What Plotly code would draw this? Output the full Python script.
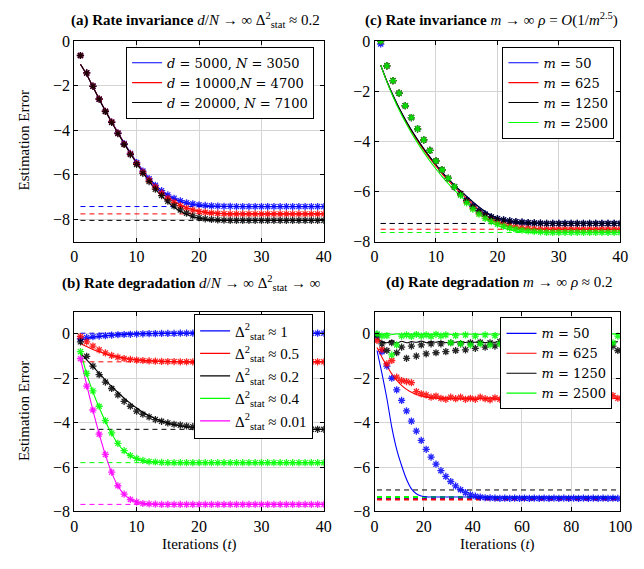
import plotly.graph_objects as go

# ---------------- data ----------------
t40 = list(range(1, 41))
t_d = list(range(1, 100, 2))

# (a) Rate invariance d/N -> inf
a_names = ["<i>d</i> = 5000, <i>N</i> = 3050", "<i>d</i> = 10000,<i>N</i> = 4700", "<i>d</i> = 20000, <i>N</i> = 7100"]
a_colors = ["#0000ff", "#ff0000", "#000000"]
a_blue_mk = [-0.65, -1.43, -2.02, -2.6, -3.15, -3.63, -4.12, -4.6, -5.04, -5.45, -5.83, -6.17, -6.47, -6.71, -6.9, -7.05, -7.16, -7.25, -7.3, -7.34,
             -7.37, -7.39, -7.4, -7.41, -7.41, -7.42, -7.42, -7.42, -7.42, -7.42, -7.42, -7.42, -7.42, -7.42, -7.42, -7.42, -7.42, -7.42, -7.42, -7.42]
a_red_mk = [-0.65, -1.43, -2.02, -2.6, -3.15, -3.63, -4.13, -4.62, -5.06, -5.49, -5.88, -6.24, -6.55, -6.82, -7.05, -7.23, -7.38, -7.5, -7.58, -7.64,
            -7.68, -7.71, -7.73, -7.74, -7.75, -7.75, -7.75, -7.75, -7.75, -7.75, -7.75, -7.75, -7.75, -7.75, -7.75, -7.75, -7.75, -7.75, -7.75, -7.75]
a_black_mk = [-0.65, -1.43, -2.03, -2.61, -3.16, -3.65, -4.15, -4.64, -5.09, -5.53, -5.93, -6.3, -6.64, -6.93, -7.18, -7.39, -7.57, -7.72, -7.84, -7.92,
              -7.97, -8.0, -8.02, -8.03, -8.04, -8.04, -8.04, -8.04, -8.04, -8.04, -8.04, -8.04, -8.04, -8.04, -8.04, -8.04, -8.04, -8.04, -8.04, -8.04]
a_blue_ln = [-1.04, -1.5, -2.05, -2.6, -3.13, -3.62, -4.1, -4.56, -5.0, -5.42, -5.8, -6.15, -6.45, -6.7, -6.9, -7.06, -7.18, -7.27, -7.33, -7.37,
             -7.39, -7.41, -7.42, -7.42, -7.42, -7.42, -7.42, -7.42, -7.42, -7.42, -7.42, -7.42, -7.42, -7.42, -7.42, -7.42, -7.42, -7.42, -7.42, -7.42]
a_red_ln = [-1.04, -1.5, -2.05, -2.6, -3.13, -3.63, -4.11, -4.58, -5.03, -5.45, -5.85, -6.22, -6.53, -6.8, -7.02, -7.2, -7.35, -7.47, -7.56, -7.62,
            -7.67, -7.7, -7.72, -7.74, -7.75, -7.75, -7.75, -7.75, -7.75, -7.75, -7.75, -7.75, -7.75, -7.75, -7.75, -7.75, -7.75, -7.75, -7.75, -7.75]
a_black_ln = [-1.04, -1.5, -2.06, -2.61, -3.14, -3.64, -4.13, -4.6, -5.05, -5.48, -5.9, -6.29, -6.64, -6.95, -7.22, -7.45, -7.63, -7.77, -7.88, -7.95,
              -7.99, -8.02, -8.03, -8.04, -8.04, -8.04, -8.04, -8.04, -8.04, -8.04, -8.04, -8.04, -8.04, -8.04, -8.04, -8.04, -8.04, -8.04, -8.04, -8.04]
a_floor = [-7.42, -7.75, -8.04]

# (b) Rate degradation d/N -> inf
b_names = ["Δ<sup>2</sup><sub>stat</sub> ≈ 1", "Δ<sup>2</sup><sub>stat</sub> ≈ 0.5", "Δ<sup>2</sup><sub>stat</sub> ≈ 0.2",
           "Δ<sup>2</sup><sub>stat</sub> ≈ 0.4", "Δ<sup>2</sup><sub>stat</sub> ≈ 0.01"]
b_colors = ["#0000ff", "#ff0000", "#000000", "#00ff00", "#ff00ff"]
b_blue_mk = [-0.22, -0.17, -0.13, -0.1, -0.08, -0.06, -0.04, -0.03, -0.02, -0.01, 0.0, 0.01, 0.01, 0.02, 0.02, 0.02, 0.03, 0.03, 0.03, 0.03,
             0.03, 0.03, 0.03, 0.03, 0.03, 0.03, 0.03, 0.03, 0.03, 0.03, 0.03, 0.03, 0.03, 0.03, 0.03, 0.03, 0.03, 0.03, 0.03, 0.03]
b_red_mk = [-0.12, -0.36, -0.55, -0.72, -0.86, -0.97, -1.05, -1.11, -1.15, -1.18, -1.2, -1.22, -1.23, -1.24, -1.25, -1.25, -1.26, -1.26, -1.26, -1.26,
            -1.26, -1.26, -1.26, -1.26, -1.26, -1.26, -1.26, -1.26, -1.26, -1.26, -1.26, -1.26, -1.26, -1.26, -1.26, -1.26, -1.26, -1.26, -1.26, -1.26]
b_black_mk = [-0.36, -1.01, -1.45, -1.84, -2.17, -2.46, -2.75, -3.04, -3.26, -3.48, -3.62, -3.74, -3.86, -3.94, -4.01, -4.07, -4.11, -4.15, -4.18, -4.2,
              -4.22, -4.24, -4.25, -4.26, -4.27, -4.28, -4.28, -4.29, -4.29, -4.3, -4.3, -4.3, -4.3, -4.3, -4.3, -4.3, -4.3, -4.3, -4.3, -4.3]
b_green_mk = [-0.8, -1.78, -2.57, -3.26, -3.91, -4.46, -4.93, -5.26, -5.48, -5.61, -5.7, -5.75, -5.77, -5.79, -5.8, -5.8, -5.8, -5.8, -5.8, -5.8,
              -5.8, -5.8, -5.8, -5.8, -5.8, -5.8, -5.8, -5.8, -5.8, -5.8, -5.8, -5.8, -5.8, -5.8, -5.8, -5.8, -5.8, -5.8, -5.8, -5.8]
b_mag_mk = [-1.12, -2.35, -3.43, -4.52, -5.43, -6.23, -6.84, -7.22, -7.46, -7.57, -7.64, -7.66, -7.67, -7.68, -7.68, -7.68, -7.68, -7.68, -7.68, -7.68,
            -7.68, -7.68, -7.68, -7.68, -7.68, -7.68, -7.68, -7.68, -7.68, -7.68, -7.68, -7.68, -7.68, -7.68, -7.68, -7.68, -7.68, -7.68, -7.68, -7.68]
b_blue_ln = [-0.3, -0.22, -0.16, -0.12, -0.09, -0.06, -0.04, -0.03, -0.01, 0.0, 0.01, 0.01, 0.02, 0.02, 0.03, 0.03, 0.03, 0.03, 0.03, 0.03,
             0.03, 0.03, 0.03, 0.03, 0.03, 0.03, 0.03, 0.03, 0.03, 0.03, 0.03, 0.03, 0.03, 0.03, 0.03, 0.03, 0.03, 0.03, 0.03, 0.03]
b_red_ln = [-0.43, -0.57, -0.7, -0.81, -0.9, -0.98, -1.04, -1.09, -1.13, -1.16, -1.19, -1.21, -1.22, -1.23, -1.24, -1.25, -1.26, -1.26, -1.26, -1.26,
            -1.26, -1.26, -1.26, -1.26, -1.26, -1.26, -1.26, -1.26, -1.26, -1.26, -1.26, -1.26, -1.26, -1.26, -1.26, -1.26, -1.26, -1.26, -1.26, -1.26]
b_black_ln = [-0.87, -1.17, -1.47, -1.78, -2.08, -2.37, -2.64, -2.9, -3.13, -3.34, -3.53, -3.69, -3.82, -3.93, -4.02, -4.09, -4.15, -4.19, -4.22, -4.25,
              -4.27, -4.28, -4.29, -4.3, -4.3, -4.3, -4.3, -4.3, -4.3, -4.3, -4.3, -4.3, -4.3, -4.3, -4.3, -4.3, -4.3, -4.3, -4.3, -4.3]
b_green_ln = [-0.8, -1.8, -2.62, -3.32, -3.95, -4.5, -4.95, -5.28, -5.5, -5.63, -5.71, -5.75, -5.78, -5.79, -5.8, -5.8, -5.8, -5.8, -5.8, -5.8,
              -5.8, -5.8, -5.8, -5.8, -5.8, -5.8, -5.8, -5.8, -5.8, -5.8, -5.8, -5.8, -5.8, -5.8, -5.8, -5.8, -5.8, -5.8, -5.8, -5.8]
b_mag_ln = [-1.12, -2.3, -3.45, -4.5, -5.45, -6.25, -6.85, -7.23, -7.45, -7.57, -7.63, -7.66, -7.67, -7.68, -7.68, -7.68, -7.68, -7.68, -7.68, -7.68,
            -7.68, -7.68, -7.68, -7.68, -7.68, -7.68, -7.68, -7.68, -7.68, -7.68, -7.68, -7.68, -7.68, -7.68, -7.68, -7.68, -7.68, -7.68, -7.68, -7.68]
b_floor = [0.03, -1.26, -4.3, -5.8, -7.68]

# (c) Rate invariance m -> inf
c_names = ["<i>m</i> = 50", "<i>m</i> = 625", "<i>m</i> = 1250", "<i>m</i> = 2500"]
c_colors = ["#0000ff", "#ff0000", "#000000", "#00ff00"]
c_blue_mk = [-0.12, -0.99, -1.58, -2.08, -2.58, -3.05, -3.5, -3.94, -4.36, -4.78, -5.13, -5.47, -5.81, -6.09, -6.35, -6.58, -6.77, -6.9, -7.01, -7.08,
             -7.13, -7.17, -7.2, -7.22, -7.24, -7.25, -7.26, -7.27, -7.27, -7.27, -7.27, -7.27, -7.27, -7.27, -7.27, -7.27, -7.27, -7.27, -7.27, -7.27]
c_red_mk = [0.0, -0.99, -1.58, -2.08, -2.58, -3.05, -3.5, -3.94, -4.36, -4.78, -5.13, -5.47, -5.81, -6.09, -6.4, -6.65, -6.85, -7.0, -7.12, -7.22,
            -7.3, -7.36, -7.41, -7.44, -7.46, -7.48, -7.49, -7.5, -7.5, -7.5, -7.5, -7.5, -7.5, -7.5, -7.5, -7.5, -7.5, -7.5, -7.5, -7.5]
c_black_mk = [0.0, -0.99, -1.58, -2.08, -2.58, -3.05, -3.5, -3.94, -4.36, -4.78, -5.13, -5.47, -5.81, -6.09, -6.35, -6.58, -6.77, -6.9, -7.01, -7.08,
              -7.13, -7.17, -7.2, -7.22, -7.24, -7.25, -7.26, -7.27, -7.27, -7.27, -7.27, -7.27, -7.27, -7.27, -7.27, -7.27, -7.27, -7.27, -7.27, -7.27]
c_green_mk = [0.0, -0.99, -1.58, -2.08, -2.58, -3.05, -3.5, -3.94, -4.36, -4.78, -5.13, -5.47, -5.81, -6.15, -6.45, -6.7, -6.9, -7.07, -7.2, -7.3,
              -7.38, -7.45, -7.5, -7.54, -7.57, -7.59, -7.61, -7.63, -7.63, -7.63, -7.63, -7.63, -7.63, -7.63, -7.63, -7.63, -7.63, -7.63, -7.63, -7.63]
c_blue_ln = [-0.96, -1.6, -2.17, -2.68, -3.14, -3.56, -3.94, -4.3, -4.63, -4.94, -5.23, -5.5, -5.75, -5.98, -6.2, -6.42, -6.62, -6.8, -6.95, -7.06,
             -7.14, -7.19, -7.23, -7.25, -7.26, -7.27, -7.27, -7.27, -7.27, -7.27, -7.27, -7.27, -7.27, -7.27, -7.27, -7.27, -7.27, -7.27, -7.27, -7.27]
c_red_ln = [-0.96, -1.61, -2.19, -2.7, -3.17, -3.59, -3.98, -4.34, -4.68, -4.99, -5.29, -5.56, -5.82, -6.05, -6.27, -6.5, -6.72, -6.92, -7.09, -7.22,
            -7.32, -7.39, -7.44, -7.47, -7.49, -7.5, -7.5, -7.5, -7.5, -7.5, -7.5, -7.5, -7.5, -7.5, -7.5, -7.5, -7.5, -7.5, -7.5, -7.5]
c_black_ln = [-0.96, -1.6, -2.16, -2.67, -3.13, -3.55, -3.93, -4.29, -4.62, -4.93, -5.22, -5.49, -5.74, -5.97, -6.19, -6.41, -6.61, -6.79, -6.94, -7.05,
              -7.13, -7.19, -7.23, -7.25, -7.26, -7.27, -7.27, -7.27, -7.27, -7.27, -7.27, -7.27, -7.27, -7.27, -7.27, -7.27, -7.27, -7.27, -7.27, -7.27]
c_green_ln = [-0.96, -1.63, -2.22, -2.75, -3.23, -3.66, -4.06, -4.43, -4.78, -5.1, -5.4, -5.68, -5.94, -6.18, -6.4, -6.64, -6.86, -7.06, -7.22, -7.35,
              -7.45, -7.52, -7.57, -7.6, -7.62, -7.63, -7.63, -7.63, -7.63, -7.63, -7.63, -7.63, -7.63, -7.63, -7.63, -7.63, -7.63, -7.63, -7.63, -7.63]
c_floor = [-7.27, -7.5, -7.27, -7.63]

# (d) Rate degradation m -> inf (t = 1, 3, ..., 99)
d_blue_mk = [-0.1, -0.8, -1.45, -2.0, -2.52, -3.0, -3.47, -3.93, -4.38, -4.8, -5.2, -5.55, -5.87, -6.16, -6.42, -6.65, -6.85, -7.02, -7.15, -7.25,
             -7.31, -7.35, -7.38, -7.39, -7.4, -7.41, -7.4, -7.41, -7.4, -7.41, -7.4, -7.41, -7.4, -7.41, -7.4, -7.41, -7.4, -7.41, -7.4, -7.41,
             -7.4, -7.41, -7.4, -7.41, -7.4, -7.41, -7.4, -7.41, -7.4, -7.41]
d_red_mk = [-0.3, -0.7, -1.35, -1.2, -1.95, -2.1, -2.15, -2.2, -2.6, -2.7, -2.75, -2.85, -2.8, -2.9, -2.95, -2.85, -2.92, -2.85, -2.95, -2.9,
            -2.95, -2.85, -2.92, -2.97, -2.88, -2.95, -2.9, -2.97, -2.88, -2.93, -2.96, -2.9, -2.95, -2.88, -2.93, -2.97, -2.9, -2.94, -2.96, -2.89,
            -2.95, -2.92, -2.96, -2.9, -2.93, -2.96, -2.88, -2.85, -2.78, -2.9]
d_black_mk = [-0.05, -0.45, -0.75, -0.4, -0.85, -0.6, -1.1, -0.55, -1.0, -0.5, -0.9, -0.45, -0.85, -0.45, -0.8, -0.4, -0.75, -0.45, -0.72, -0.4,
              -0.65, -0.38, -0.6, -0.4, -0.55, -0.35, -0.5, -0.38, -0.45, -0.35, -0.5, -0.4, -0.45, -0.35, -0.5, -0.38, -0.45, -0.35, -0.48, -0.38,
              -0.45, -0.35, -0.5, -0.4, -0.45, -0.38, -0.5, -0.4, -0.55, -0.75]
d_green_mk = [0.0, -0.1, -0.08, -0.95, -0.5, -0.1, -0.05, -0.12, -0.03, -0.1, -0.05, -0.12, -0.02, -0.1, -0.05, -0.4, -0.08, -0.45, -0.05, -0.5,
              -0.1, -0.45, -0.05, -0.5, -0.08, -0.45, -0.05, -0.5, -0.1, -0.45, -0.05, -0.4, -0.08, -0.45, -0.05, -0.1, -0.08, -0.4, -0.05, -0.45,
              -0.1, -0.05, -0.08, -0.4, -0.05, -0.1, -0.45, -0.05, -0.4, -0.1]
d_blue_ln = [-0.75, -1.78, -2.9, -4.2, -5.2, -5.93, -6.55, -6.98, -7.2, -7.3, -7.34, -7.35, -7.35, -7.35, -7.35, -7.35, -7.35, -7.35, -7.35, -7.35,
             -7.35, -7.35, -7.35, -7.35, -7.35, -7.35, -7.35, -7.35, -7.35, -7.35, -7.35, -7.35, -7.35, -7.35, -7.35, -7.35, -7.35, -7.35, -7.35, -7.35,
             -7.35, -7.35, -7.35, -7.35, -7.35, -7.35, -7.35, -7.35, -7.35, -7.35]
d_red_ln = [-0.62, -1.05, -1.45, -1.8, -2.08, -2.32, -2.5, -2.63, -2.73, -2.8, -2.85, -2.88, -2.9, -2.92, -2.88, -2.93, -2.9, -2.94, -2.89, -2.92,
            -2.95, -2.9, -2.93, -2.88, -2.92, -2.94, -2.9, -2.93, -2.89, -2.92, -2.95, -2.9, -2.92, -2.88, -2.93, -2.91, -2.94, -2.89, -2.92, -2.9,
            -2.93, -2.89, -2.92, -2.95, -2.9, -2.93, -2.88, -2.91, -2.9, -2.92]
d_black_ln = [-0.2, -0.35, -0.4, -0.3, -0.42, -0.33, -0.4, -0.35, -0.38, -0.32, -0.4, -0.35, -0.38, -0.33, -0.4, -0.36, -0.38, -0.33, -0.39, -0.35,
              -0.38, -0.34, -0.4, -0.36, -0.38, -0.33, -0.39, -0.35, -0.38, -0.34, -0.4, -0.36, -0.38, -0.33, -0.39, -0.35, -0.38, -0.34, -0.4, -0.36,
              -0.38, -0.33, -0.39, -0.35, -0.38, -0.34, -0.4, -0.36, -0.38, -0.35]
d_green_ln = [0.0, -0.02, 0.01, -0.03, 0.0, -0.02, 0.01, -0.02, 0.0, -0.03, 0.01, -0.02, 0.0, -0.02, 0.01, -0.03, 0.0, -0.02, 0.01, -0.02,
              0.0, -0.03, 0.01, -0.02, 0.0, -0.02, 0.01, -0.03, 0.0, -0.02, 0.01, -0.02, 0.0, -0.03, 0.01, -0.02, 0.0, -0.02, 0.01, -0.03,
              0.0, -0.02, 0.01, -0.02, 0.0, -0.03, 0.01, -0.02, 0.0, -0.02]
d_floor = [-7.42, -7.46, -7.03, -7.35]
d_floor_w = [2, 2, 1, 2]

titles = ["<b>(a) Rate invariance</b> <i>d</i>/<i>N</i> → ∞ Δ<sup>2</sup><sub>stat</sub> ≈ 0.2",
          "<b>(c) Rate invariance</b> <i>m</i> → ∞ <i>ρ</i> = <i>O</i>(1/<i>m</i><sup>2.5</sup>)",
          "<b>(b) Rate degradation</b> <i>d</i>/<i>N</i> → ∞ Δ<sup>2</sup><sub>stat</sub> → ∞",
          "<b>(d) Rate degradation</b> <i>m</i> → ∞ <i>ρ</i> ≈ 0.2"]

# ---------------- figure ----------------
W, H = 644, 569
FONT = "Liberation Serif"
LFONT = "DejaVu Serif"
fig = go.Figure()


def px_x(v):
    return v / W


def px_y(v):
    return 1 - v / H


def add_set(xax, yax, legend, tx, names, colors, lines, marks, floors, fw=None, ms=6):
    for i, (nm, col) in enumerate(zip(names, colors)):
        w = 1 if fw is None else fw[i]
        fig.add_trace(go.Scatter(x=[tx[0], tx[-1]], y=[floors[i], floors[i]], mode="lines",
                                 line=dict(color=col, width=w, dash="5px,4px"), showlegend=False,
                                 xaxis=xax, yaxis=yax, hoverinfo="skip"))
    for i, (nm, col) in enumerate(zip(names, colors)):
        fig.add_trace(go.Scatter(x=tx, y=lines[i], mode="lines", name=nm, legend=legend,
                                 line=dict(color=col, width=1.1, shape="spline", smoothing=0.6),
                                 xaxis=xax, yaxis=yax))
    for i, (nm, col) in enumerate(zip(names, colors)):
        fig.add_trace(go.Scatter(x=tx, y=marks[i], mode="markers", showlegend=False,
                                 marker=dict(symbol="asterisk-open", size=ms, color=col, opacity=0.85,
                                             line=dict(color=col, width=1.3)),
                                 xaxis=xax, yaxis=yax))


add_set("x", "y", "legend", t40, a_names, a_colors,
        [a_blue_ln, a_red_ln, a_black_ln], [a_blue_mk, a_red_mk, a_black_mk], a_floor)
add_set("x2", "y2", "legend2", t40, c_names, c_colors,
        [c_blue_ln, c_red_ln, c_black_ln, c_green_ln], [c_blue_mk, c_red_mk, c_black_mk, c_green_mk], c_floor)
add_set("x3", "y3", "legend3", t40, b_names, b_colors,
        [b_blue_ln, b_red_ln, b_black_ln, b_green_ln, b_mag_ln],
        [b_blue_mk, b_red_mk, b_black_mk, b_green_mk, b_mag_mk], b_floor)
add_set("x4", "y4", "legend4", t_d, c_names, c_colors,
        [d_blue_ln, d_red_ln, d_black_ln, d_green_ln], [d_blue_mk, d_red_mk, d_black_mk, d_green_mk], d_floor, d_floor_w)

ax_common = dict(showline=True, linecolor="black", linewidth=1, mirror="allticks", ticks="inside", ticklen=4,
                 tickcolor="black", showgrid=True, gridcolor="#d4d4d4", gridwidth=1, zeroline=False,
                 tickfont=dict(family=FONT, size=16, color="black"))

xl = [px_x(72), px_x(328)]
xr = [px_x(380), px_x(632)]
yt = [px_y(241), px_y(34)]
yb = [px_y(519), px_y(313)]

fig.update_layout(
    width=W, height=H, margin=dict(l=0, r=0, t=0, b=0),
    paper_bgcolor="white", plot_bgcolor="white",
    font=dict(family=FONT, size=15, color="black"),
    xaxis=dict(domain=xl, range=[0, 40], tickvals=[0, 10, 20, 30, 40], anchor="y", **ax_common),
    yaxis=dict(domain=yt, range=[-9, 0], tickvals=[-8, -6, -4, -2, 0], anchor="x", **ax_common),
    xaxis2=dict(domain=xr, range=[0, 40], tickvals=[0, 10, 20, 30, 40], anchor="y2", **ax_common),
    yaxis2=dict(domain=yt, range=[-8, 0], tickvals=[-8, -6, -4, -2, 0], anchor="x2", **ax_common),
    xaxis3=dict(domain=xl, range=[0, 40], tickvals=[0, 10, 20, 30, 40], anchor="y3", **ax_common),
    yaxis3=dict(domain=yb, range=[-8, 1], tickvals=[-8, -6, -4, -2, 0], anchor="x3", **ax_common),
    xaxis4=dict(domain=xr, range=[0, 100], tickvals=[0, 20, 40, 60, 80, 100], anchor="y4", **ax_common),
    yaxis4=dict(domain=yb, range=[-8, 1], tickvals=[-8, -6, -4, -2, 0], anchor="x4", **ax_common),
)

leg_common = dict(bgcolor="white", bordercolor="black", borderwidth=1, xanchor="right", yanchor="top",
                  tracegroupgap=0, itemwidth=30)
fig.update_layout(
    legend=dict(x=px_x(318), y=px_y(40), font=dict(family=LFONT, size=13, color="black"), **leg_common),
    legend2=dict(x=px_x(626), y=px_y(40), font=dict(family=LFONT, size=13, color="black"), **leg_common),
    legend3=dict(x=px_x(317), y=px_y(315), font=dict(family=FONT, size=15, color="black"), **leg_common),
    legend4=dict(x=px_x(624), y=px_y(319), font=dict(family=LFONT, size=13, color="black"), **leg_common),
)

# titles
for txt, cx, cy in zip(titles, [196, 500, 192, 508], [12, 12, 283, 283]):
    fig.add_annotation(text=txt, x=px_x(cx), y=px_y(cy), xref="paper", yref="paper", showarrow=False,
                       xanchor="center", yanchor="middle", font=dict(family=FONT, size=15, color="black"))
# y titles
for cy in [137, 416]:
    fig.add_annotation(text="Estimation Error", x=px_x(20), y=px_y(cy), xref="paper", yref="paper",
                       showarrow=False, textangle=-90, xanchor="center", yanchor="middle",
                       font=dict(family=FONT, size=15, color="black"))
# x titles
for cx in [200, 506]:
    fig.add_annotation(text="Iterations (<i>t</i>)", x=px_x(cx), y=px_y(553), xref="paper", yref="paper",
                       showarrow=False, xanchor="center", yanchor="middle",
                       font=dict(family=FONT, size=15, color="black"))

fig.write_html("out.html", config={"displayModeBar": False},
               post_script="document.body.style.margin='0px';document.body.style.overflow='hidden';")
